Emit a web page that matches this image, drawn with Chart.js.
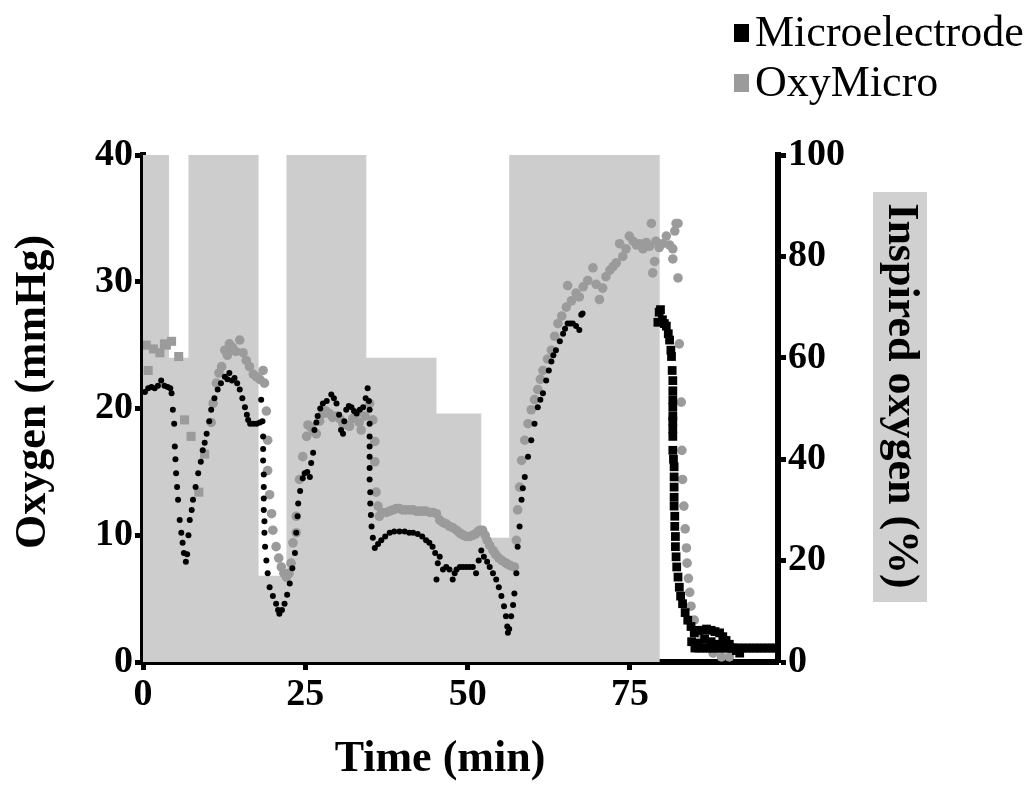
<!DOCTYPE html>
<html>
<head>
<meta charset="utf-8">
<script src="https://cdn.jsdelivr.net/npm/chart.js@4/dist/chart.umd.min.js"></script>
<style>
html, body { margin: 0; padding: 0; background: #fff; }
#wrap { width: 1031px; height: 786px; position: relative; }
</style>
</head>
<body>
<div id="wrap"><canvas id="oxyChart"></canvas></div>
<script>
// Microelectrode (black) - time in min, oxygen in mmHg
const microTime = [
  0.3, 0.8, 1.3, 1.8, 2.3, 2.8, 3.3, 3.8, 4.2, 4.4, 4.6, 4.8, 4.9, 5.0, 5.1, 5.25, 5.4, 5.65, 5.9, 6.1, 6.3, 6.6, 6.8, 7.0,
  7.2, 7.5, 7.7, 8.1, 8.5, 8.9, 9.2, 9.5, 9.8, 10.2, 10.5, 11.0, 11.5, 12.0, 12.6, 13.0, 13.3, 13.7, 14.1, 14.5, 14.9,
  15.3, 15.7, 16.0, 16.2, 16.5, 17.0, 17.5, 18.0, 18.2, 18.4, 18.5, 18.5, 18.5, 18.6, 18.6, 18.6, 18.6, 18.7, 18.7,
  18.8, 19.0, 19.2, 19.5, 20.0, 20.5, 20.8, 21.0, 21.4, 21.8, 22.2, 22.6, 23.0, 23.4, 23.6, 23.8, 23.9, 24.2, 24.6,
  24.9, 25.3, 25.7, 25.9, 26.2, 26.4, 26.7, 26.9, 27.3, 27.7, 28.3, 29.0, 29.4, 29.8, 30.2, 30.5, 30.8, 31.0, 31.3,
  31.7, 32.1, 32.5, 32.9, 33.4, 33.9, 34.3, 34.6, 34.8, 34.9, 34.9, 34.9, 34.9, 34.9, 34.9, 34.9, 35.0, 35.0, 35.1,
  35.2, 35.4, 35.7, 36.2, 36.7, 37.3, 38.0, 38.7, 39.5, 40.3, 41.0, 41.6, 42.3, 43.0, 43.6, 44.1, 44.6, 45.0, 45.2,
  45.4, 45.7, 46.2, 46.7, 47.2, 47.7, 48.0, 48.3, 48.8, 49.3, 49.8, 50.3, 50.8, 51.3, 51.7, 52.1, 52.5, 53.0, 53.4,
  53.9, 54.4, 54.8, 55.2, 55.6, 55.9, 56.1, 56.2, 56.4, 56.7, 57.0, 57.2, 57.5, 57.7, 58.0, 58.3, 58.5, 58.8, 59.3,
  59.8, 60.3, 60.8, 61.2, 61.6, 62.1, 62.5, 62.9, 63.2, 63.6, 64.2, 64.7, 65.0, 65.4, 65.8, 66.2, 66.7, 67.2, 67.5, 67.7,
  79.3, 79.5, 79.7, 80.0, 80.3, 80.6, 80.9, 81.1, 81.3, 81.4, 81.5, 81.6, 81.6, 81.6, 81.6, 81.6, 81.6, 81.6, 81.6,
  81.6, 81.7, 81.8, 81.8, 81.8, 81.8, 81.8, 81.9, 81.9, 82.0, 82.0, 82.1, 82.2, 82.4, 82.6, 82.8, 83.1, 83.5, 83.9,
  84.4, 84.9, 85.5, 86.2, 86.8, 87.5, 88.1, 88.8, 89.3, 89.8, 90.3, 90.8, 91.4, 91.9,
  84.5, 85.5, 86.5, 87.5, 88.5,
  85.0, 85.6, 86.2, 86.8, 87.4, 88.0, 88.6, 89.2, 89.8, 90.4, 91.0, 91.6, 92.2, 92.8, 93.4, 94.0, 94.6, 95.2, 95.8,
  96.4, 97.0, 97.6
];
const microO2 = [
  21.3, 21.6, 21.7, 21.6, 21.8, 22.2, 21.8, 21.7, 21.6, 21.2, 19.9, 18.8, 17.0, 16.0, 14.9, 13.8, 12.8, 11.2, 10.2, 9.4, 8.6, 7.9, 8.5, 10.0,
  11.2, 12.0, 12.8, 13.8, 14.9, 15.8, 16.7, 17.3, 18.0, 19.0, 19.9, 20.8, 21.5, 22.0, 22.5, 22.3, 22.8, 22.2, 22.4, 22.0, 21.5,
  20.8, 20.1, 19.5, 19.1, 18.8, 18.8, 18.8, 18.9, 20.7, 19.0, 17.8, 16.8, 15.9, 14.8, 13.8, 12.9, 12.0, 11.1, 10.2,
  9.1, 8.0, 7.0, 5.9, 5.2, 4.6, 4.1, 3.8, 4.1, 4.6, 5.3, 6.2, 7.4, 8.6, 10.2, 11.5, 12.5, 13.5, 14.5,
  14.9, 15.0, 14.6, 15.7, 16.5, 18.3, 18.9, 19.4, 20.0, 20.4, 20.6, 21.1, 20.8, 20.4, 19.5, 18.3, 18.0, 19.0, 19.9,
  20.2, 20.1, 19.8, 19.6, 19.9, 20.1, 20.8, 21.6, 20.6, 19.9, 18.8, 17.8, 17.0, 16.2, 15.3, 14.4, 13.4, 12.5, 11.6,
  10.7, 9.8, 9.0, 9.3, 9.6, 9.9, 10.2, 10.3, 10.3, 10.3, 10.2, 10.2, 10.1, 9.9, 9.6, 9.4, 9.1, 8.6, 6.5,
  7.8, 8.3, 7.3, 7.5, 7.3, 6.5, 7.0, 7.3, 7.5, 7.5, 7.5, 7.5, 7.5, 7.0, 8.0, 8.8, 8.3, 7.9, 7.5,
  7.0, 6.5, 5.9, 5.2, 4.4, 3.6, 2.8, 2.3, 2.6, 3.6, 4.5, 5.4, 7.0, 9.1, 10.7, 12.8, 13.7, 14.6, 16.2,
  17.5, 18.8, 20.1, 20.7, 21.2, 22.2, 23.0, 23.7, 24.2, 24.6, 25.3, 25.9, 26.3, 26.7, 26.7, 26.7, 26.5, 26.2, 27.4, 27.5,
  26.8, 27.6, 27.8, 27.0, 26.7, 26.5, 25.9, 25.4, 24.6, 24.1, 23.0, 22.2, 21.4, 20.7, 20.1, 19.4, 19.0, 18.4, 17.8,
  16.7, 16.0, 15.4, 14.6, 13.8, 13.0, 12.3, 11.5, 10.7, 9.9, 9.1, 8.3, 7.5, 6.7, 5.9, 5.2, 4.6, 3.9, 3.3,
  2.8, 2.3, 2.5, 2.5, 2.6, 2.5, 2.4, 2.3, 2.0, 1.7, 1.4, 1.1, 0.9, 0.7,
  1.6, 1.5, 1.8, 1.6, 1.4,
  1.1, 1.1, 1.1, 1.1, 1.1, 1.1, 1.1, 1.1, 1.1, 1.1, 1.1, 1.1, 1.1, 1.1, 1.1, 1.1, 1.1, 1.1, 1.1,
  1.1, 1.1, 1.1
];

// OxyMicro (grey)
const oxyTime = [
  0.5, 0.8, 1.6, 2.6, 3.3, 3.6, 4.4, 5.5, 6.4, 7.4, 8.6, 9.5, 10.5, 10.8, 11.3, 11.7, 12.1, 12.6, 13.0, 13.3, 13.8,
  14.3, 14.9, 15.4, 15.9, 16.4, 17.0, 17.5, 18.0, 18.5, 18.7, 19.0, 19.2, 19.2, 19.5, 19.8, 20.0, 20.5, 20.9, 21.3,
  21.7, 22.1, 22.5, 22.8, 23.1, 23.6, 23.6, 24.1, 24.6, 25.2, 25.4, 25.9, 26.3, 26.7, 27.2, 27.7, 28.2, 28.7, 29.2,
  29.8, 30.3, 30.8, 31.3, 31.8, 32.3, 32.9, 33.3, 33.6, 34.2, 34.9, 35.4, 35.7, 35.7, 35.9, 36.2, 36.4,
  36.8, 37.5, 38.0, 38.5, 39.0, 39.5, 40.0, 40.5, 41.1, 41.6, 42.1, 42.6, 43.1, 43.6, 44.2, 44.7, 45.2, 45.7, 46.2,
  46.7, 47.2, 47.7, 48.3, 48.7, 49.0, 49.4, 49.8, 50.3, 50.8, 51.2, 51.6, 51.9, 52.3, 52.7, 53.0, 53.4, 53.9, 54.3,
  54.8, 55.3, 55.9, 56.2, 56.6, 57.2, 57.5, 57.7, 58.0, 58.3, 58.8, 59.3, 59.8, 60.3, 60.8, 61.2, 61.6, 62.3, 62.9, 63.4, 63.9, 64.5,
  65.2, 65.4, 66.0, 66.7, 67.2, 67.8, 68.5, 69.3, 69.8, 70.3, 70.8, 71.3, 71.9, 72.4, 72.9, 73.4, 73.9, 74.4, 74.9,
  75.5, 76.0, 76.5, 77.0, 77.5, 78.0, 78.3, 78.5, 78.8, 79.0, 79.5, 80.0, 80.6, 81.1, 81.6, 81.6, 81.9, 82.1, 82.4,
  82.4, 82.6, 82.9, 83.0, 83.1, 83.3, 83.5, 83.7, 83.8, 84.0, 84.2, 84.4, 84.9, 85.7, 86.7, 87.8, 89.1, 90.3
];
const oxyO2 = [
  25.0, 23.0, 24.7, 24.4, 25.1, 25.0, 25.3, 24.1, 19.1, 17.8, 13.4, 16.4, 18.9, 20.4, 22.0, 22.8, 23.3, 24.6, 24.2, 25.1, 24.8,
  24.5, 25.4, 24.4, 23.8, 23.3, 22.7, 22.5, 22.3, 23.0, 22.0, 19.8, 17.5, 15.1, 13.2, 11.7, 10.4, 9.1, 8.2, 7.5,
  7.0, 6.7, 7.0, 7.8, 9.4, 10.2, 11.5, 14.4, 16.2, 17.8, 18.7, 18.5, 18.2, 18.0, 19.0, 19.6, 19.8, 19.6, 19.3,
  19.4, 19.2, 18.8, 18.7, 18.6, 19.2, 19.6, 18.9, 18.3, 19.4, 20.4, 19.1, 17.4, 15.8, 13.4, 12.3, 11.5,
  11.8, 11.8, 11.9, 12.0, 12.1, 12.1, 12.0, 12.0, 12.0, 12.0, 11.9, 11.9, 11.9, 11.9, 11.8, 11.8, 11.7, 11.2, 11.0,
  10.9, 10.7, 10.6, 10.4, 10.2, 10.1, 10.0, 9.9, 9.9, 10.0, 10.1, 10.3, 10.4, 10.4, 10.0, 9.6, 9.2, 8.8, 8.5,
  8.2, 8.0, 7.8, 7.7, 7.6, 7.5, 9.6, 12.0, 13.8, 15.9, 17.5, 18.8, 19.9, 20.7, 21.5, 22.3, 23.0, 23.9, 24.6, 25.7, 26.7, 27.3,
  28.0, 29.7, 28.5, 29.1, 28.8, 29.6, 30.1, 31.1, 29.8, 28.6, 29.5, 30.4, 30.9, 31.2, 31.5, 33.0, 32.0, 32.6, 33.6,
  33.2, 32.9, 33.0, 32.6, 33.1, 32.8, 34.6, 30.7, 31.6, 33.2, 32.7, 33.0, 33.6, 32.9, 31.8, 32.6, 34.0, 34.6, 34.6,
  30.3, 25.1, 20.5, 16.7, 14.4, 12.3, 10.5, 9.0, 7.8, 6.6, 5.5, 4.4, 3.3, 2.3, 1.3, 0.7, 0.4, 0.4
];

// Inspired oxygen (%) steps - each value holds until the next time
const inspTime = [0, 4.0, 7.0, 17.8, 22.1, 34.4, 45.2, 52.1, 56.4, 79.6];
const inspPct = [100, 60, 100, 17, 100, 60, 49, 24.5, 100, 0];

const timeTicks = [0, 25, 50, 75];
const mmHgTicks = [0, 10, 20, 30, 40];
const pctTicks = [0, 20, 40, 60, 80, 100];

const serif = '"Liberation Serif", "Times New Roman", serif';

const toPoints = (xs, ys) => xs.map((x, i) => ({ x: x, y: ys[i] }));

// titles, grey label box and the legend drawn on the canvas
const decorPlugin = {
  id: 'decor',
  afterDraw(chart) {
    const c = chart.ctx;
    c.save();
    c.fillStyle = '#000';
    c.textAlign = 'center';
    c.textBaseline = 'middle';
    c.font = 'bold 44px ' + serif;
    c.fillText('Time (min)', 440, 760);

    c.save();
    c.translate(34, 392);
    c.rotate(-Math.PI / 2);
    c.fillText('Oxygen (mmHg)', 0, 0);
    c.restore();

    c.fillStyle = '#d0d0d0';
    c.fillRect(873, 192, 54, 410);
    c.fillStyle = '#000';
    c.save();
    c.translate(900, 396);
    c.rotate(Math.PI / 2);
    c.fillText('Inspired oxygen (%)', 0, 0);
    c.restore();

    // legend
    const items = [chart.data.datasets[2], chart.data.datasets[1]];
    c.textAlign = 'left';
    c.font = '44px ' + serif;
    items.forEach((ds, i) => {
      const y = 33 + i * 50;
      c.fillStyle = ds.backgroundColor;
      c.fillRect(734, y - 9, 15, 18);
      c.fillStyle = '#000';
      c.fillText(ds.label, 755, y + 1);
    });
    c.restore();
  }
};

const axisGrid = {
  drawOnChartArea: false,
  drawTicks: true,
  tickLength: 8,
  tickWidth: 5,
  color: '#000'
};
const tickFont = { family: serif, size: 38, weight: 'bold' };

const ctx = document.getElementById('oxyChart').getContext('2d');
new Chart(ctx, {
  type: 'scatter',
  data: {
    datasets: [
      {
        label: 'Inspired oxygen',
        type: 'line',
        data: toPoints(inspTime, inspPct),
        yAxisID: 'y2',
        stepped: true,
        fill: 'origin',
        backgroundColor: '#cdcdcd',
        borderWidth: 0,
        pointRadius: 0,
        order: 3
      },
      {
        label: 'OxyMicro',
        data: toPoints(oxyTime, oxyO2),
        yAxisID: 'y',
        backgroundColor: '#9b9b9b',
        borderWidth: 0,
        pointStyle: (c) => (c.raw && c.raw.x < 10 ? 'rect' : 'circle'),
        pointRadius: (c) => (c.raw && c.raw.x < 10 ? 6.4 : 4.8),
        order: 2
      },
      {
        label: 'Microelectrode',
        data: toPoints(microTime, microO2),
        yAxisID: 'y',
        backgroundColor: '#000000',
        borderWidth: 0,
        pointStyle: (c) => (c.raw && c.raw.x > 75 ? 'rect' : 'circle'),
        pointRadius: (c) => (c.raw && c.raw.x > 75 ? 6.2 : 3.0),
        order: 1
      }
    ]
  },
  options: {
    responsive: true,
    maintainAspectRatio: false,
    animation: false,
    layout: { padding: { top: 155, left: 0, right: 0, bottom: 0 }, autoPadding: false },
    plugins: {
      legend: { display: false },
      tooltip: { enabled: false }
    },
    scales: {
      x: {
        type: 'linear',
        z: 1,
        min: 0,
        max: 97.8,
        afterBuildTicks: (scale) => { scale.ticks = timeTicks.map(v => ({ value: v })); },
        afterFit: (scale) => { scale.height = 124; },
        border: { display: true, width: 6, color: '#000' },
        grid: axisGrid,
        ticks: { color: '#000', padding: 2, font: tickFont }
      },
      y: {
        type: 'linear',
        position: 'left',
        z: 1,
        min: 0,
        max: 40,
        afterBuildTicks: (scale) => { scale.ticks = mmHgTicks.map(v => ({ value: v })); },
        afterFit: (scale) => { scale.width = 143; },
        border: { display: true, width: 6, color: '#000' },
        grid: axisGrid,
        ticks: { color: '#000', padding: 2, font: tickFont }
      },
      y2: {
        type: 'linear',
        position: 'right',
        z: 1,
        min: 0,
        max: 100,
        afterBuildTicks: (scale) => { scale.ticks = pctTicks.map(v => ({ value: v })); },
        afterFit: (scale) => { scale.width = 253; },
        border: { display: true, width: 6, color: '#000' },
        grid: axisGrid,
        ticks: { color: '#000', padding: 2, font: tickFont }
      }
    }
  },
  plugins: [decorPlugin]
});
</script>
</body>
</html>
